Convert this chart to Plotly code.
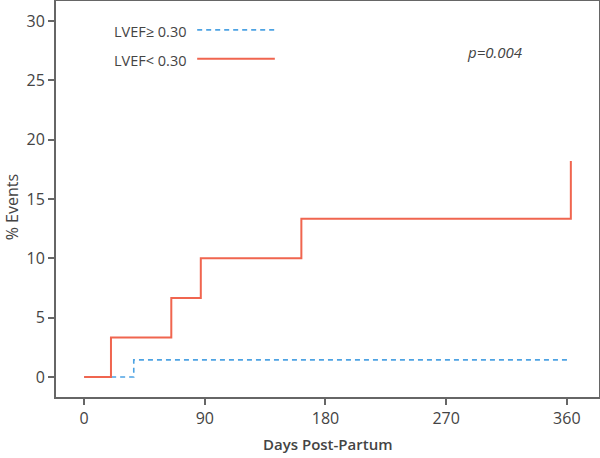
import plotly.graph_objects as go

# Data
red_days = [0, 20, 65, 87, 162, 363, 363]
red_pct = [0, 3.33, 6.67, 10.0, 13.33, 13.33, 18.2]
blue_days = [0, 37, 363]
blue_pct = [0, 1.45, 1.45]
x_ticks = [0, 90, 180, 270, 360]
y_ticks = [0, 5, 10, 15, 20, 25, 30]
series_names = ["LVEF\u2265 0.30", "LVEF< 0.30"]

RED = "#F0654F"
BLUE = "#4DA3E3"
GRAY = "#666666"
TXT = "#444444"
FONT = "Open Sans"

fig = go.Figure()
fig.add_trace(go.Scatter(x=blue_days, y=blue_pct, mode="lines", line_shape="hv",
                         line=dict(color=BLUE, width=1.6, dash="5px,4px"),
                         name=series_names[0], showlegend=False))
fig.add_trace(go.Scatter(x=red_days, y=red_pct, mode="lines", line_shape="hv",
                         line=dict(color=RED, width=2),
                         name=series_names[1], showlegend=False))

# manual legend (text left, line sample right)
legend_y = [0.924, 0.851]
styles = [dict(color=BLUE, width=1.6, dash="5px,4px"), dict(color=RED, width=2)]
for name, yy, st in zip(series_names, legend_y, styles):
    fig.add_annotation(xref="paper", yref="paper", x=0.104, y=yy, text=name,
                       showarrow=False, xanchor="left", yanchor="middle",
                       font=dict(family=FONT, size=14.5, color=TXT))
    fig.add_shape(type="line", xref="paper", yref="paper",
                  x0=0.260, x1=0.403, y0=yy + 0.003, y1=yy + 0.003, line=st)

fig.add_annotation(xref="paper", yref="paper", x=0.808, y=0.872, text="<i>p=0.004</i>",
                   showarrow=False, xanchor="center", yanchor="middle",
                   font=dict(family=FONT, size=15, color=TXT))

# axis titles
fig.add_annotation(xref="paper", yref="paper", x=0.5, y=-0.118, text="Days Post-Partum",
                   showarrow=False, xanchor="center", yanchor="middle",
                   font=dict(family=FONT, size=15, color=TXT, weight=600))
fig.add_annotation(xref="paper", yref="paper", x=-0.081, y=0.479, text="% Events",
                   showarrow=False, xanchor="center", yanchor="middle", textangle=-90,
                   font=dict(family=FONT, size=16, color=TXT))

fig.update_layout(
    width=600, height=458,
    margin=dict(l=56, r=1, t=1, b=61, autoexpand=False),
    paper_bgcolor="white", plot_bgcolor="white",
    font=dict(family=FONT, color=TXT),
)
fig.update_xaxes(range=[-21, 384], tickvals=x_ticks, ticks="outside", ticklen=6,
                 tickcolor=GRAY, tickwidth=1.5, showgrid=False, zeroline=False,
                 showline=True, linecolor=GRAY, linewidth=2, mirror=True,
                 automargin=False,
                 tickfont=dict(family=FONT, size=16, color=TXT))
fig.update_yaxes(range=[-1.68, 31.68], tickvals=y_ticks, ticks="outside", ticklen=6,
                 tickcolor=GRAY, tickwidth=1.5, showgrid=False, zeroline=False,
                 showline=True, linecolor=GRAY, linewidth=2, mirror=True,
                 automargin=False,
                 tickfont=dict(family=FONT, size=16, color=TXT))

fig.write_html("out.html", config={"displayModeBar": False},
               post_script="document.body.style.margin='0';document.body.style.padding='0';")
